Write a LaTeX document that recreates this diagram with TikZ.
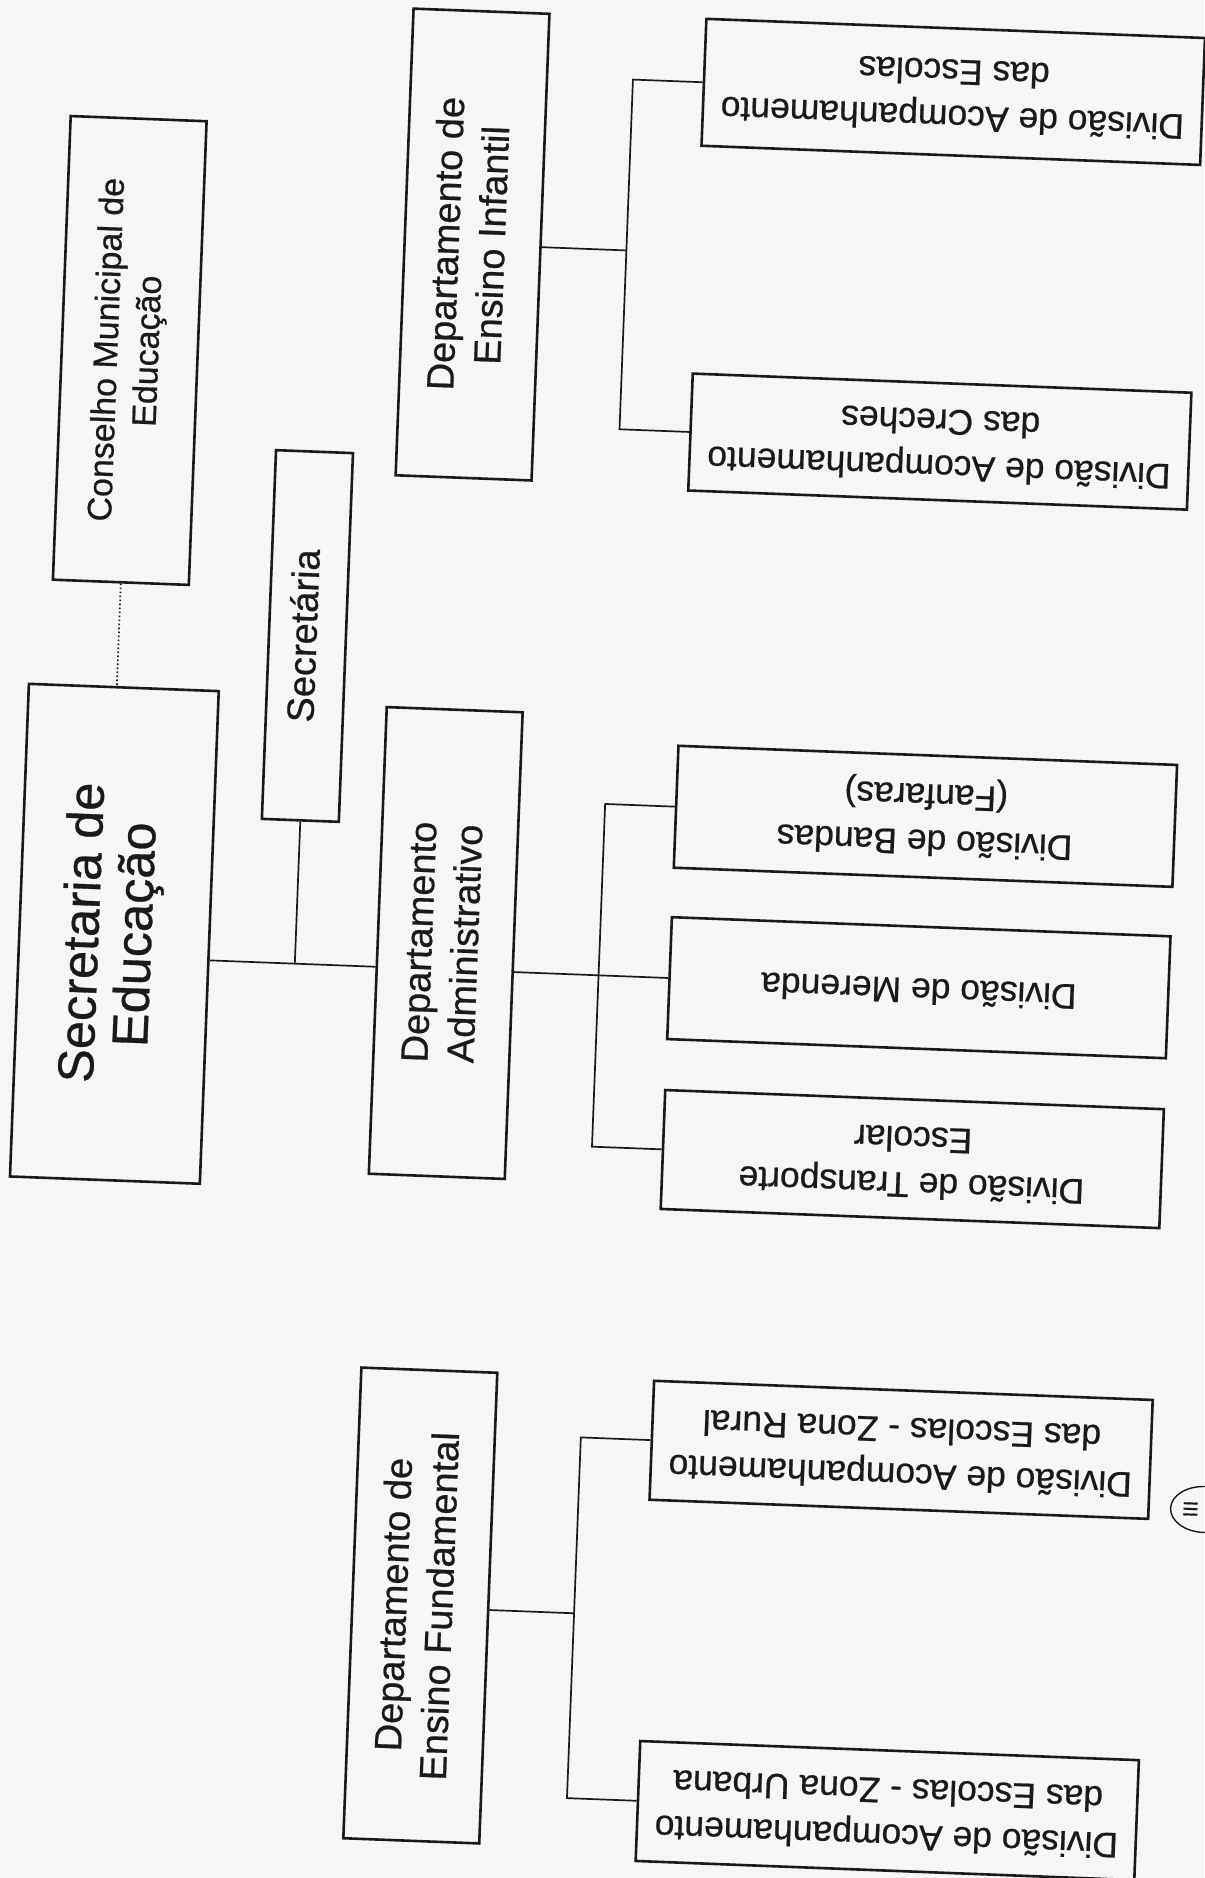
\documentclass[tikz,border=0pt]{standalone}
\usepackage{fontspec}
\setmainfont{Liberation Sans}[UprightFeatures={FakeBold=0.6}]
\usepackage{graphicx}
\usepackage{xcolor}
\usetikzlibrary{positioning,calc,shapes.geometric}

\definecolor{paper}{RGB}{246,246,244}
\definecolor{ink}{RGB}{26,26,26}

\newcommand{\rotup}[1]{\rotatebox{90}{\begin{tabular}{@{}c@{}}#1\end{tabular}}}
\newcommand{\rotdown}[1]{\rotatebox{180}{\begin{tabular}{@{}c@{}}#1\end{tabular}}}

\begin{document}
\begin{tikzpicture}[x=1pt,y=-1pt,
box/.style={draw=ink,line width=2.6pt,inner sep=0pt,text=ink},
dep/.style={box,minimum width=136pt,minimum height=467pt,font=\fontsize{38}{46}\selectfont},
div/.style={box,minimum width=499pt,minimum height=122pt,font=\fontsize{35.5}{46}\selectfont},
link/.style={draw=ink,line width=1.7pt}]

\fill[paper] (0,0) rectangle (1204,1878);
\useasboundingbox (0,0) rectangle (1204,1878);

\begin{scope}[rotate around={-2.2:(602,939)},transform shape]
% topo
\node[box,minimum width=136pt,minimum height=464pt,font=\fontsize{34}{41}\selectfont] (cme) at (107.5,369) {\rotup{Conselho Municipal de\\Educação}};
\node[box,minimum width=190pt,minimum height=493pt,font=\fontsize{50.5}{53}\selectfont] (sec) at (114.5,952.5) {\rotup{Secretaria de\\Educação}};
\node[box,minimum width=77pt,minimum height=369pt,font=\fontsize{38}{46}\selectfont] (asec) at (296,647.5) {\rotup{Secretária}};

% departamentos
\node[dep] (inf) at (446,250) {\rotup{Departamento de\\Ensino Infantil}};
\node[dep] (adm) at (446,949) {\rotup{Departamento\\Administrativo}};
\node[dep,minimum height=471pt] (fund) at (446,1612) {\rotup{Departamento de\\Ensino Fundamental}};

% divisoes
\node[div,minimum height=127pt] (escolas) at (920.5,79) {\rotdown{Divisão de Acompanhamento\\das Escolas}};
\node[div,minimum height=117pt] (creches) at (920.5,429) {\rotdown{Divisão de Acompanhamento\\das Creches}};
\node[div] (bandas) at (920.5,804) {\rotdown{Divisão de Bandas\\(Fanfaras)}};
\node[div] (merenda) at (920.5,975.5) {\rotdown{Divisão de Merenda}};
\node[div,minimum height=119pt] (transp) at (920.5,1147) {\rotdown{Divisão de Transporte\\Escolar}};
\node[div,minimum height=119pt] (rural) at (920.5,1438) {\rotdown{Divisão de Acompanhamento\\das Escolas - Zona Rural}};
\node[div,minimum height=120pt] (urbana) at (920.5,1799) {\rotdown{Divisão de Acompanhamento\\das Escolas - Zona Urbana}};

% marca da pagina
\node[draw=ink,line width=1.4pt,ellipse,minimum width=68pt,minimum height=46pt] (pag) at (1226,1486) {};
\node[text=ink,inner sep=0pt,font=\fontsize{20}{20}\selectfont] (pagnum) at (1212,1486) {\rotatebox{90}{III}};

\coordinate (jinf) at (600,250);
\coordinate (jadm) at (600,975.5);
\coordinate (jfund) at (600,1614);

\draw[link,dash pattern=on 1.6pt off 2.4pt] (cme.south) -- (cme.south |- sec.north);
\draw[link] (asec.south) -- (asec.south |- merenda);
\draw[link] (sec.east |- merenda) -- (adm.west |- merenda);
\draw[link] (adm.east |- merenda) -- (merenda.west);
\draw[link] (bandas.west) -- (bandas.west -| jadm) -- (transp.west -| jadm) -- (transp.west);
\draw[link] (inf.east) -- (jinf);
\draw[link] (escolas.west) -- (escolas.west -| jinf) -- (creches.west -| jinf) -- (creches.west);
\draw[link] (fund.east |- jfund) -- (jfund);
\draw[link] (rural.west) -- (rural.west -| jfund) -- (urbana.west -| jfund) -- (urbana.west);
\end{scope}
\end{tikzpicture}
\end{document}
